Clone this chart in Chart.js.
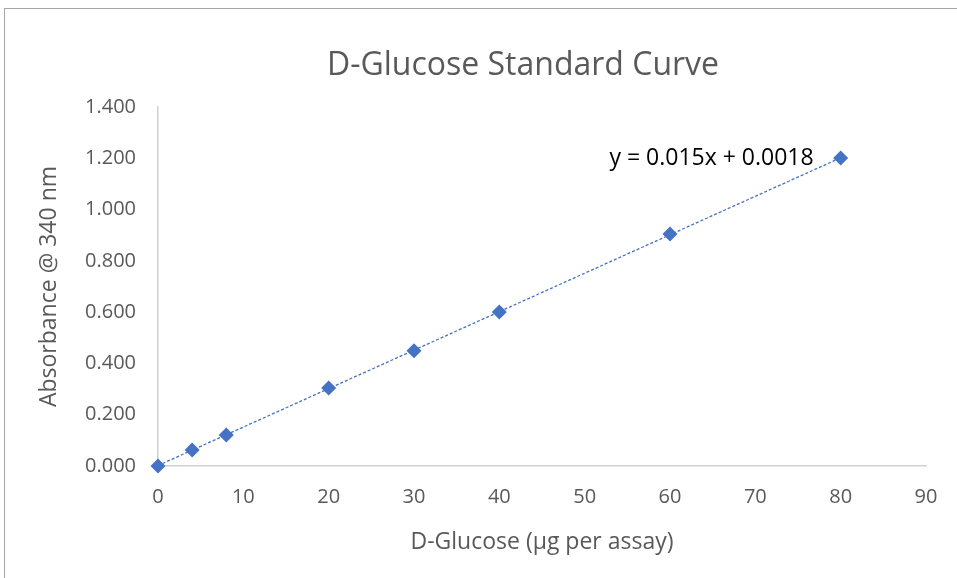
<!doctype html>
<html lang="en">
  <head>
    <meta charset="utf-8">
    <title>D-Glucose Standard Curve</title>
    <style>
      * {
        margin: 0;
        padding: 0;
      }
      body {
        background: white;
        width: 957px;
        height: 578px;
        overflow: hidden;
        position: relative;
      }
      .frame {
        position: absolute;
        left: 4px;
        top: 8px;
        width: 1000px;
        height: 1000px;
        border: 1.5px solid #a6a6a6;
        pointer-events: none;
      }
      .chartBox {
        position: absolute;
        left: 0;
        top: 0;
        width: 957px;
        height: 578px;
      }
    </style>
  </head>
  <body>
    <div class="chartBox">
      <canvas id="myChart"></canvas>
    </div>
    <div class="frame"></div>
    <script src="https://cdn.jsdelivr.net/npm/chart.js/dist/chart.umd.min.js"></script>
    <script>

    // data
    const glucose = [0, 4, 8, 20, 30, 40, 60, 80];
    const absorbance = [0.000, 0.062, 0.121, 0.304, 0.449, 0.601, 0.905, 1.201];

    // linear trendline shown on the chart
    const slope = 0.015;
    const intercept = 0.0018;
    const trendX = [0, 80];
    const equationText = 'y = 0.015x + 0.0018';
    const equationPos = [52.9, 1.201];

    const xTicks = [0, 10, 20, 30, 40, 50, 60, 70, 80, 90];
    const yTicks = [0, 0.2, 0.4, 0.6, 0.8, 1.0, 1.2, 1.4];

    const chartTitle = 'D-Glucose Standard Curve';

    const fontFamily = "'Open Sans', 'Liberation Sans', sans-serif";
    const textGrey = '#595959';
    const blue = '#4472C4';

    const data = {
      datasets: [{
        label: 'Absorbance',
        data: glucose.map((x, i) => ({ x: x, y: absorbance[i] })),
        showLine: false,
        pointStyle: 'rectRot',
        pointRadius: 7.5,
        pointHoverRadius: 7.5,
        backgroundColor: blue,
        borderColor: blue,
        borderWidth: 0,
        clip: false,
        order: 1
      }, {
        label: 'Linear',
        data: trendX.map(x => ({ x: x, y: slope * x + intercept })),
        showLine: true,
        pointRadius: 0,
        borderColor: blue,
        borderWidth: 1.3,
        borderDash: [3, 2],
        clip: false,
        order: 2
      }]
    };

    // title (offset to the right like the original) and equation label
    const textLayer = {
      id: 'textLayer',
      afterDatasetsDraw(chart) {
        const ctx = chart.ctx;
        ctx.save();
        ctx.font = '32px ' + fontFamily;
        ctx.fillStyle = textGrey;
        ctx.textAlign = 'center';
        ctx.textBaseline = 'middle';
        ctx.fillText(chartTitle, 523, 66);

        const px = chart.scales.x.getPixelForValue(equationPos[0]);
        const py = chart.scales.y.getPixelForValue(equationPos[1]);
        ctx.font = '23px ' + fontFamily;
        ctx.fillStyle = '#000000';
        ctx.textAlign = 'left';
        ctx.fillText(equationText, px, py);
        ctx.restore();
      }
    };

    const config = {
      type: 'scatter',
      data,
      options: {
        responsive: true,
        maintainAspectRatio: false,
        animation: false,
        layout: {
          padding: { left: 0, right: 31, top: 107, bottom: 0 }
        },
        scales: {
          x: {
            type: 'linear',
            min: 0,
            max: 90,
            afterBuildTicks: axis => { axis.ticks = xTicks.map(v => ({ value: v })); },
            afterFit: axis => { axis.height = 112; },
            grid: { display: false, drawTicks: false },
            border: { color: '#d0d0d0', width: 1.5 },
            ticks: {
              color: textGrey,
              font: { family: fontFamily, size: 20 },
              padding: 19
            },
            title: {
              display: true,
              text: 'D-Glucose (µg per assay)',
              color: textGrey,
              font: { family: fontFamily, size: 23 },
              padding: { top: 0, bottom: 22 }
            }
          },
          y: {
            type: 'linear',
            min: 0,
            max: 1.4,
            afterBuildTicks: axis => { axis.ticks = yTicks.map(v => ({ value: v })); },
            afterFit: axis => { axis.width = 158; },
            grid: { display: false, drawTicks: false },
            border: { color: '#d0d0d0', width: 1.5 },
            ticks: {
              color: textGrey,
              font: { family: fontFamily, size: 20 },
              padding: 22,
              callback: v => v.toFixed(3)
            },
            title: {
              display: true,
              text: 'Absorbance @ 340 nm',
              color: textGrey,
              font: { family: fontFamily, size: 23 },
              padding: { top: 36, bottom: 0 }
            }
          }
        },
        plugins: {
          legend: { display: false },
          tooltip: { enabled: false },
          title: { display: false }
        }
      },
      plugins: [textLayer]
    };

    const myChart = new Chart(
      document.getElementById('myChart'),
      config
    );
    </script>
  </body>
</html>
